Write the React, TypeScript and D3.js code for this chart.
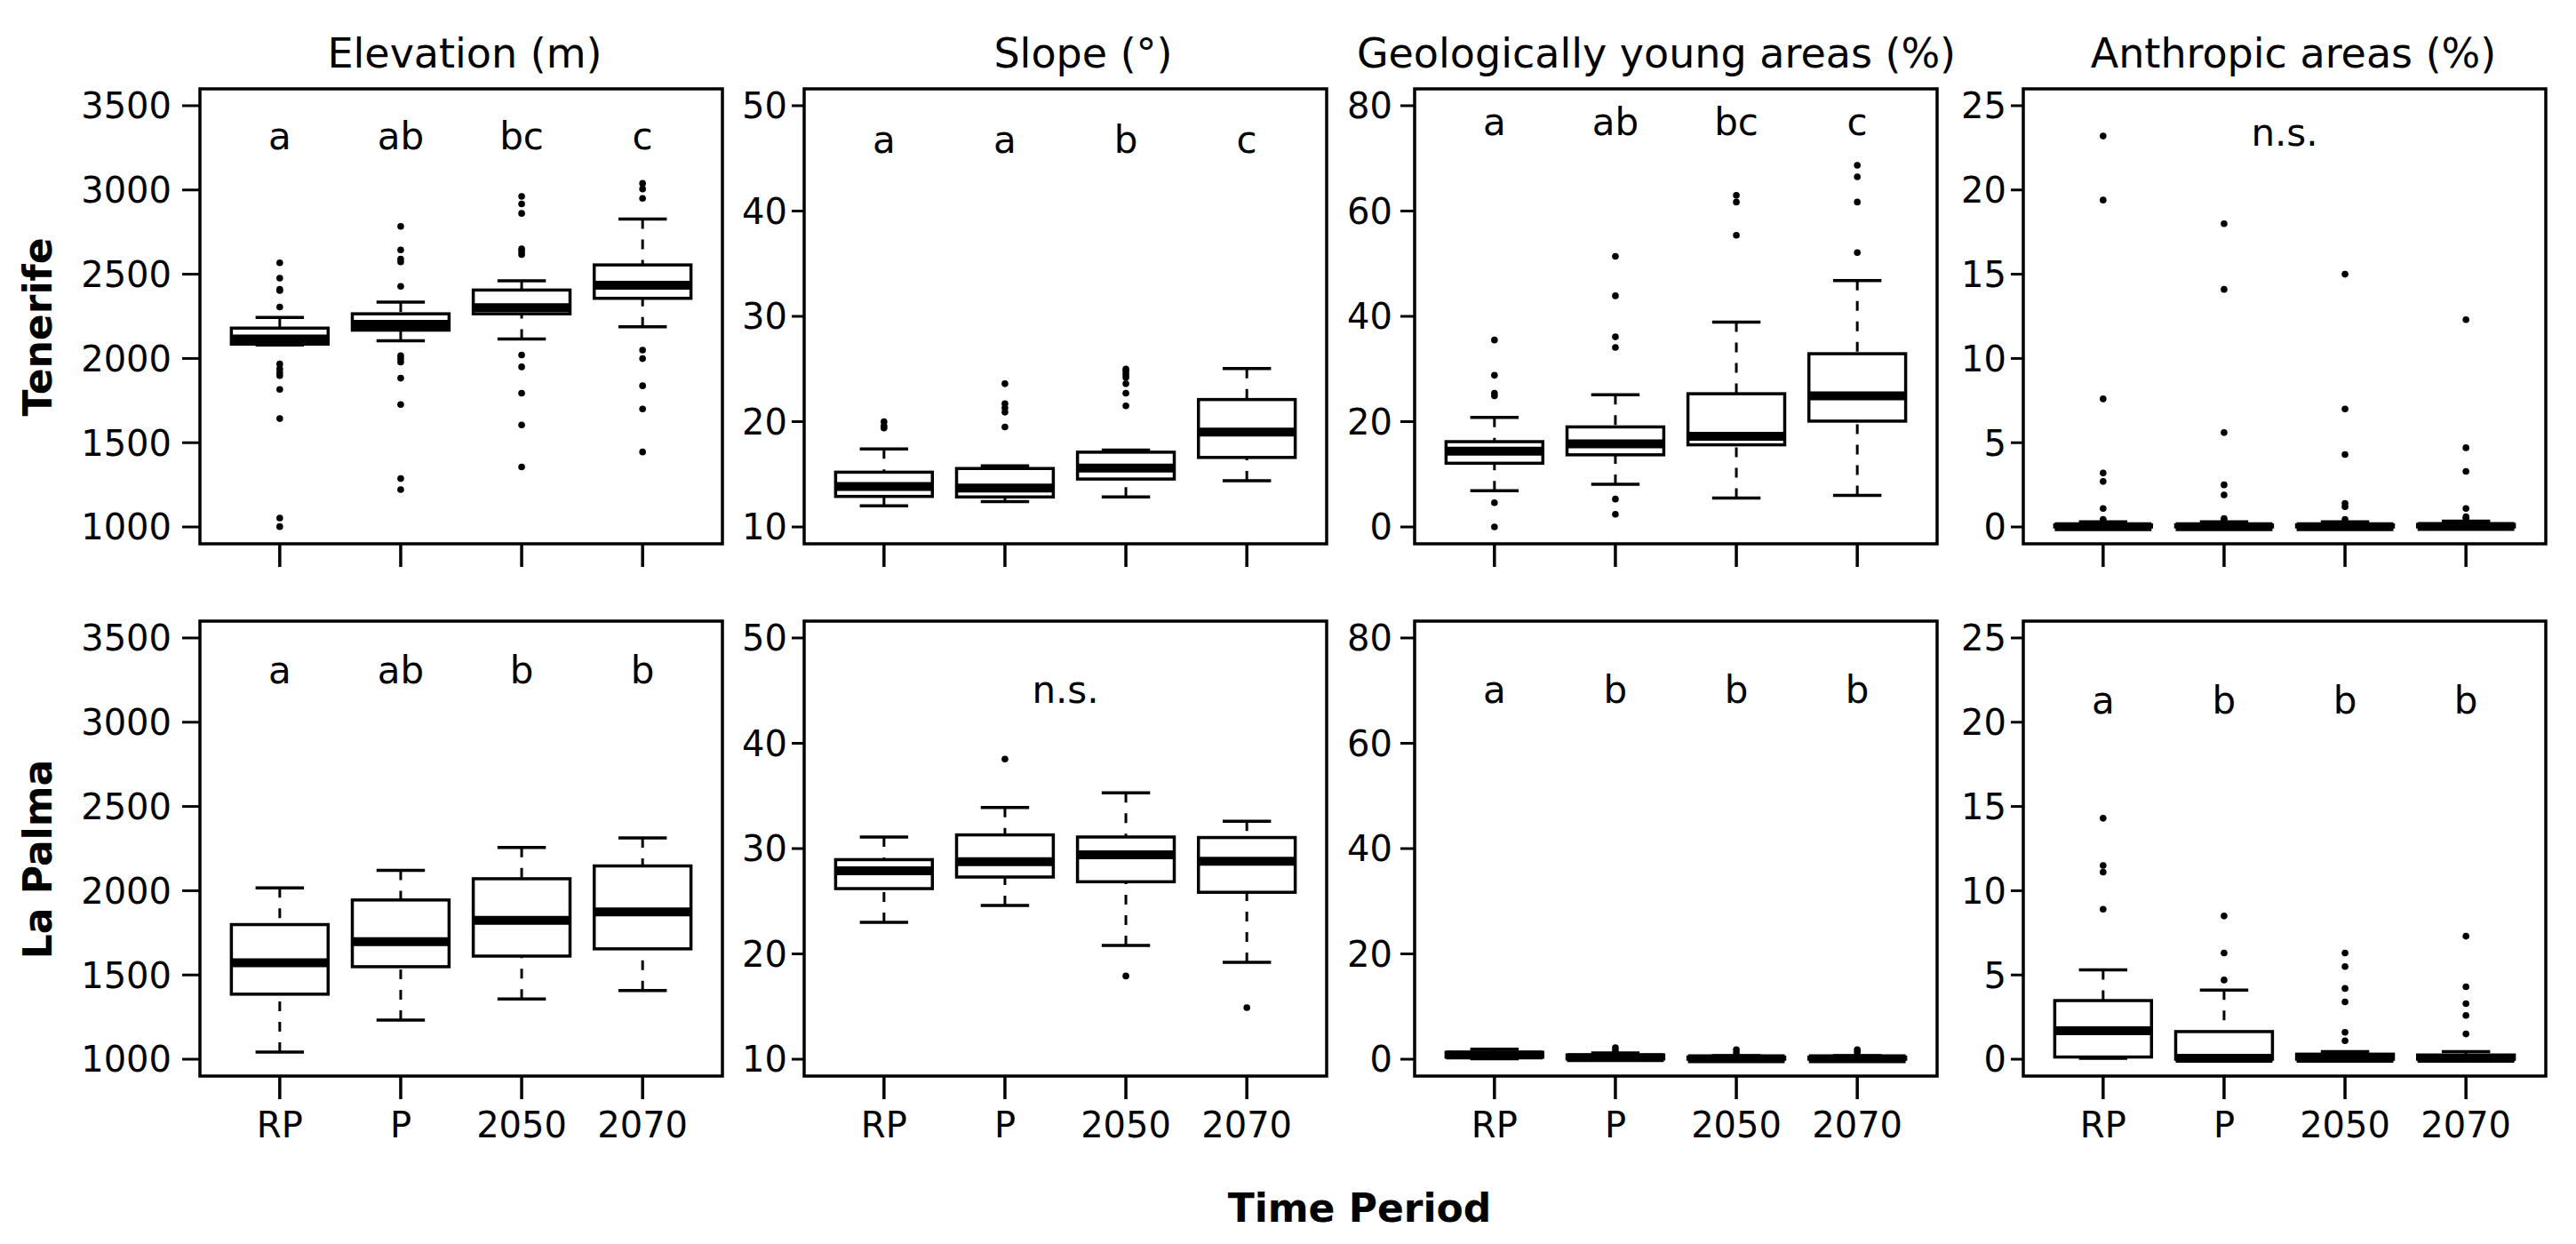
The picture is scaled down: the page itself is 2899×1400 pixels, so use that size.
import React from "react";
import * as d3 from "d3";

const periods = ["RP", "P", "2050", "2070"];
const islands = ["Tenerife", "La Palma"];
const variables = ["Elevation (m)", "Slope (°)", "Geologically young areas (%)", "Anthropic areas (%)"];
const yLimits = [[1000, 3500], [10, 50], [0, 80], [0, 25]];
const yTicks = [
  [1000, 1500, 2000, 2500, 3000, 3500],
  [10, 20, 30, 40, 50],
  [0, 20, 40, 60, 80],
  [0, 5, 10, 15, 20, 25],
];

// boxes: [lower whisker, Q1, median, Q3, upper whisker] for RP, P, 2050, 2070
const tfElevation = [[2080, 2085, 2115, 2180, 2243], [2105, 2168, 2203, 2265, 2334], [2116, 2265, 2301, 2406, 2461], [2188, 2357, 2434, 2555, 2828]];
const tfElevationOut = [
  [2568, 2477, 2410, 2403, 2305, 1967, 1938, 1916, 1898, 1816, 1643, 1053, 1002],
  [2784, 2644, 2590, 2573, 2428, 2016, 1999, 1979, 1883, 1727, 1287, 1222],
  [2962, 2917, 2861, 2650, 2635, 2617, 2021, 1950, 1794, 1605, 1356],
  [3039, 3006, 2950, 2050, 1999, 1838, 1700, 1445],
];
const tfSlope = [[12.0, 12.9, 13.85, 15.2, 17.4], [12.4, 12.85, 13.7, 15.55, 15.8], [12.85, 14.55, 15.6, 17.1, 17.3], [14.4, 16.6, 19.0, 22.1, 25.05]];
const tfSlopeOut = [
  [20.0, 19.6, 19.4],
  [23.6, 21.7, 21.3, 20.9, 19.5],
  [25.0, 24.8, 24.5, 24.2, 23.6, 22.7, 21.5],
  [],
];
const tfGeo = [[6.9, 12.1, 14.4, 16.2, 20.8], [8.1, 13.7, 15.8, 19.0, 25.1], [5.5, 15.6, 17.2, 25.3, 38.9], [6.0, 20.1, 24.9, 32.9, 46.8]];
const tfGeoOut = [
  [35.5, 28.8, 25.4, 24.9, 4.6, 0],
  [51.4, 43.9, 36.1, 34.1, 5.3, 2.4],
  [63.0, 61.7, 55.4],
  [68.7, 66.5, 61.7, 52.1],
];
const tfAnthro = [[0, 0, 0.02, 0.12, 0.3], [0, 0, 0.02, 0.12, 0.3], [0, 0, 0.02, 0.12, 0.3], [0, 0, 0.03, 0.15, 0.35]];
const tfAnthroOut = [
  [23.2, 19.4, 7.6, 3.2, 2.7, 1.1, 0.45, 0.38],
  [18.0, 14.1, 5.6, 2.5, 1.9, 0.5, 0.4],
  [15.0, 7.0, 4.3, 1.4, 1.2, 0.45],
  [12.3, 4.7, 3.3, 1.1, 0.6, 0.5],
];

const lpElevation = [[1043, 1386, 1572, 1799, 2016], [1232, 1549, 1698, 1945, 2121], [1358, 1612, 1824, 2071, 2257], [1408, 1655, 1874, 2147, 2313]];
const lpElevationOut = [[], [], [], []];
const lpSlope = [[23.0, 26.2, 27.9, 28.95, 31.1], [24.6, 27.3, 28.75, 31.3, 33.9], [20.8, 26.85, 29.4, 31.1, 35.3], [19.2, 25.85, 28.8, 31.05, 32.6]];
const lpSlopeOut = [[], [38.5], [17.9], [14.9]];
const lpGeo = [[0.1, 0.4, 0.8, 1.3, 1.9], [0, 0.05, 0.3, 0.8, 1.2], [0, 0, 0.1, 0.4, 0.7], [0, 0, 0.1, 0.4, 0.7]];
const lpGeoOut = [[], [2.2, 1.6], [1.8, 1.2], [1.8, 1.3]];
const lpAnthro = [[0.05, 0.13, 1.69, 3.48, 5.3], [0, 0, 0.05, 1.64, 4.1], [0, 0, 0.05, 0.3, 0.45], [0, 0, 0.05, 0.25, 0.45]];
const lpAnthroOut = [
  [14.3, 11.5, 11.1, 8.9],
  [8.5, 6.3, 4.7],
  [6.3, 5.5, 4.2, 3.4, 1.6, 1.1],
  [7.3, 4.3, 3.3, 2.6, 1.5],
];

// significance letters per panel, and the level (in data units) where they sit
const sigTenerife = [["a", "ab", "bc", "c"], ["a", "a", "b", "c"], ["a", "ab", "bc", "c"], ["n.s."]];
const sigLaPalma = [["a", "ab", "b", "b"], ["n.s."], ["a", "b", "b", "b"], ["a", "b", "b", "b"]];
const sigLevelTenerife = [3240, 45.5, 74.4, 22.6];
const sigLevelLaPalma = [3230, 43.8, 67.6, 20.5];

const boxStats = [[tfElevation, tfSlope, tfGeo, tfAnthro], [lpElevation, lpSlope, lpGeo, lpAnthro]];
const boxOut = [[tfElevationOut, tfSlopeOut, tfGeoOut, tfAnthroOut], [lpElevationOut, lpSlopeOut, lpGeoOut, lpAnthroOut]];
const sigs = [sigTenerife, sigLaPalma];
const sigLevels = [sigLevelTenerife, sigLevelLaPalma];

const App = () => {
  const W = 2899, H = 1400;
  const font = "'DejaVu Sans', sans-serif";
  const panelLeft = [225, 905, 1592, 2277];
  const panelW = 588;
  const rowTop = [100, 699];
  const panelH = 512;
  const tickLen = [20, 14, 16, 14];
  const labelGap = [12, 5, 9, 5];
  const titleShift = [4, 20, -22, 10];

  const panels: any[] = [];
  islands.forEach((island, r) => {
    variables.forEach((v, c) => {
      const left = panelLeft[c], top = rowTop[r];
      const [lo, hi] = yLimits[c];
      const ext = (hi - lo) * 0.04;
      const y = d3.scaleLinear().domain([lo - ext, hi + ext]).range([top + panelH, top]);
      const x = d3.scaleLinear().domain([0.34, 4.66]).range([left, left + panelW]);
      const stats = boxStats[r][c];
      const outs = boxOut[r][c];
      const sig = sigs[r][c];
      panels.push(
        <g key={`${r}-${c}`}>
          {/* y axis */}
          {yTicks[c].map(t => (
            <g key={t}>
              <line x1={left - tickLen[c]} x2={left} y1={y(t)} y2={y(t)} stroke="#000" strokeWidth={3} />
              <text x={left - tickLen[c] - labelGap[c]} y={y(t)} dy="0.36em" textAnchor="end"
                fontSize={40} fontFamily={font} fill="#000">{t}</text>
            </g>
          ))}
          {/* x axis */}
          {periods.map((p, i) => (
            <g key={p}>
              <line x1={x(i + 1)} x2={x(i + 1)} y1={top + panelH} y2={top + panelH + 26} stroke="#000" strokeWidth={3.5} />
              {r === 1 && (
                <text x={x(i + 1)} y={1280} textAnchor="middle" fontSize={40} fontFamily={font} fill="#000">{p}</text>
              )}
            </g>
          ))}
          {/* boxes */}
          {stats.map((s, i) => {
            const xi = x(i + 1);
            const hw = x(i + 1.4) - xi;
            const sw = x(i + 1.2) - xi;
            const [lw, q1, md, q3, uw] = s;
            return (
              <g key={i}>
                <line x1={xi} x2={xi} y1={y(lw)} y2={y(q1)} stroke="#000" strokeWidth={3} strokeDasharray="11 12" />
                <line x1={xi} x2={xi} y1={y(uw)} y2={y(q3)} stroke="#000" strokeWidth={3} strokeDasharray="11 12" />
                <line x1={xi - sw} x2={xi + sw} y1={y(lw)} y2={y(lw)} stroke="#000" strokeWidth={3.5} />
                <line x1={xi - sw} x2={xi + sw} y1={y(uw)} y2={y(uw)} stroke="#000" strokeWidth={3.5} />
                <rect x={xi - hw} y={y(q3)} width={2 * hw} height={Math.max(0, y(q1) - y(q3))}
                  fill="#fff" stroke="#000" strokeWidth={3.5} />
                <line x1={xi - hw} x2={xi + hw} y1={y(md)} y2={y(md)} stroke="#000" strokeWidth={10} />
                {outs[i].map((o, k) => (
                  <circle key={k} cx={xi} cy={y(o)} r={3.8} fill="#000" />
                ))}
              </g>
            );
          })}
          {/* significance letters */}
          {sig.length === 1 ? (
            <text x={x(2.5)} y={y(sigLevels[r][c])} textAnchor="middle" fontSize={42} fontFamily={font} fill="#000">{sig[0]}</text>
          ) : sig.map((s, i) => (
            <text key={i} x={x(i + 1)} y={y(sigLevels[r][c])} textAnchor="middle" fontSize={42} fontFamily={font} fill="#000">{s}</text>
          ))}
          {/* frame */}
          <rect x={left} y={top} width={panelW} height={panelH} fill="none" stroke="#000" strokeWidth={3.5} />
          {r === 0 && (
            <text x={left + panelW / 2 + titleShift[c]} y={76} textAnchor="middle" fontSize={46} fontFamily={font} fill="#000">{v}</text>
          )}
        </g>
      );
    });
  });

  return (
    <svg width={W} height={H} style={{ position: "absolute", left: 0, top: 0, background: "#fff" }}>
      <rect x={0} y={0} width={W} height={H} fill="#fff" />
      {panels}
      {islands.map((isl, r) => (
        <text key={isl} transform={`translate(58, ${rowTop[r] + panelH / 2 + 12}) rotate(-90)`}
          textAnchor="middle" fontSize={44} fontWeight="bold" fontFamily={font} fill="#000">{isl}</text>
      ))}
      <text x={1530} y={1375} textAnchor="middle" fontSize={44} fontWeight="bold" fontFamily={font} fill="#000">Time Period</text>
    </svg>
  );
};

export default App;
